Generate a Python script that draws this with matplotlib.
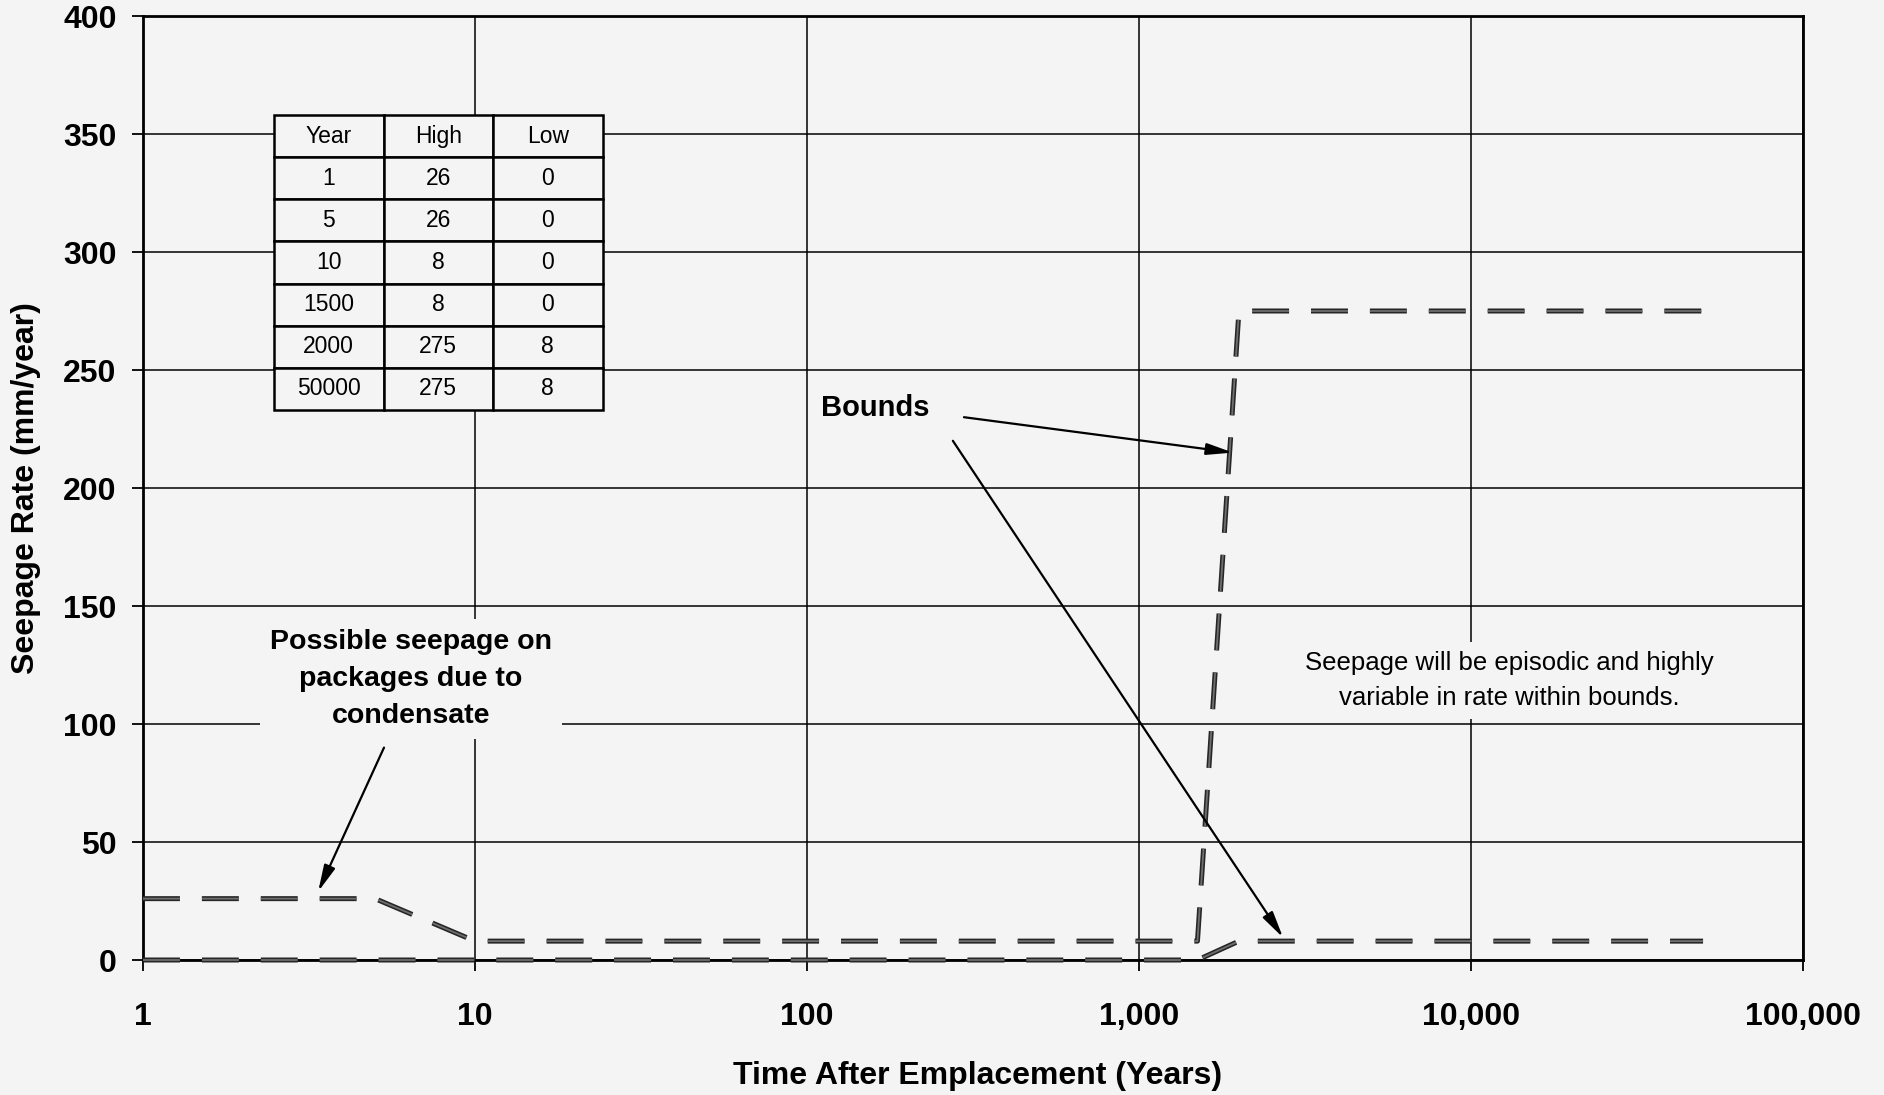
import numpy as np
import matplotlib
matplotlib.use("Agg")
import matplotlib.pyplot as plt
from matplotlib.ticker import FixedLocator, FixedFormatter

plt.rcParams['font.family'] = ['Liberation Sans', 'DejaVu Sans']
plt.rcParams['lines.scale_dashes'] = False

years = [1, 5, 10, 1500, 2000, 50000]
high = [26, 26, 8, 8, 275, 275]
low = [0, 0, 0, 0, 8, 8]

xticks = [1, 10, 100, 1000, 10000, 100000]
xtick_labels = ['1', '10', '100', '1,000', '10,000', '100,000']
yticks = [0, 50, 100, 150, 200, 250, 300, 350, 400]

bg = '#f4f4f4'
W, H = 1884, 1095
fig = plt.figure(figsize=(W / 100, H / 100), dpi=100, facecolor=bg)
ax = fig.add_axes([143 / W, (H - 960) / H, 1660 / W, 944 / H], facecolor=bg)

ax.set_xscale('log')
ax.set_xlim(1, 100000)
ax.set_ylim(0, 400)
ax.xaxis.set_major_locator(FixedLocator(xticks))
ax.xaxis.set_major_formatter(FixedFormatter(xtick_labels))
ax.xaxis.set_minor_locator(FixedLocator([]))
ax.set_yticks(yticks)

ax.grid(True, color='black', lw=1.1, zorder=1)
ax.set_axisbelow(True)
for s in ax.spines.values():
    s.set_linewidth(2)
    s.set_zorder(3)

ax.tick_params(axis='both', labelsize=23, width=1.3, length=8, direction='out')
ax.tick_params(axis='x', pad=22)
ax.tick_params(axis='y', pad=11)
for lab in ax.get_xticklabels() + ax.get_yticklabels():
    lab.set_fontweight('bold')

ax.set_xlabel('Time After Emplacement (Years)', fontsize=23, fontweight='bold')
ax.set_ylabel('Seepage Rate (mm/year)', fontsize=23, fontweight='bold')
ax.xaxis.set_label_coords(0.503, -0.107)
ax.yaxis.set_label_coords(-0.0614, 0.5)

# textured dashes: dark outline with a slightly lighter core
dash = (0, (26.6, 15.8))
for ys in (high, low):
    ax.plot(years, ys, color='#262626', lw=3.6, linestyle=dash, zorder=4,
            dash_capstyle='butt', clip_on=False)
    ax.plot(years, ys, color='#6e6e6e', lw=1.3, linestyle=dash, zorder=4,
            dash_capstyle='butt', clip_on=False)

# inset table
cells = [[str(y), str(h), str(l)] for y, h, l in zip(years, high, low)]
tbl = ax.table(cellText=cells, colLabels=['Year', 'High', 'Low'],
               cellLoc='center', bbox=[0.0789, 0.5826, 0.198, 0.3125], zorder=5)
tbl.auto_set_font_size(False)
tbl.set_fontsize(16.5)
for cell in tbl.get_celld().values():
    cell.set_facecolor(bg)
    cell.set_linewidth(1.8)
    cell.set_edgecolor('black')

box = dict(boxstyle='square,pad=0.35', fc=bg, ec='none')
arrow = dict(arrowstyle='-|>,head_length=1.6,head_width=0.35', color='black',
             lw=1.6, shrinkA=0, shrinkB=0)

ax.text(6.4, 119, 'Possible seepage on\npackages due to\ncondensate',
        ha='center', va='center', fontsize=20.5, fontweight='bold',
        linespacing=1.55, bbox=box, zorder=6)
ax.annotate('', xy=(3.37, 29), xytext=(5.32, 90), arrowprops=arrow, zorder=6)

ax.text(160, 234, 'Bounds', ha='center', va='center', fontsize=21,
        fontweight='bold', bbox=box, zorder=6)
ax.annotate('', xy=(1919, 215), xytext=(297, 230), arrowprops=arrow, zorder=6)
ax.annotate('', xy=(2716, 9.5), xytext=(275, 220), arrowprops=arrow, zorder=6)

ax.text(13000, 118.5, 'Seepage will be episodic and highly\nvariable in rate within bounds.',
        ha='center', va='center', fontsize=18.5, linespacing=1.55,
        bbox=box, zorder=6)

fig.savefig('out.png', dpi=100, facecolor=bg)
